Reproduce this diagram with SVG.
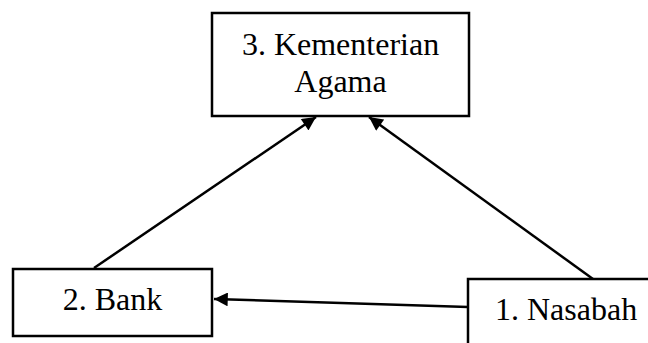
<svg xmlns="http://www.w3.org/2000/svg" width="648" height="343" viewBox="0 0 648 343">
<style>
.box{fill:#fff;stroke:#000;stroke-width:2.5}
.t{font-family:"Liberation Serif","Times New Roman",serif;font-size:32px;fill:#000}
.c{fill:none;stroke:#000;stroke-width:2.5}
</style>
<defs>
<marker id="ah" viewBox="0 0 10 10" refX="10" refY="5" markerWidth="6" markerHeight="5.5" markerUnits="strokeWidth" orient="auto">
<path d="M0,0 L10,5 L0,10 Z" fill="#000"/>
</marker>
</defs>
<rect width="648" height="343" fill="#fff"/>
<g id="connectors">
<line class="c" x1="94" y1="268" x2="316" y2="117" marker-end="url(#ah)"/>
<line class="c" x1="593" y1="279" x2="369" y2="117" marker-end="url(#ah)"/>
<line class="c" x1="468" y1="307" x2="214" y2="299" marker-end="url(#ah)"/>
</g>
<g id="kementerian">
<rect class="box" x="212" y="13" width="257" height="103"/>
<text class="t" x="340.5" y="55" text-anchor="middle">3. Kementerian</text>
<text class="t" x="340.5" y="92" text-anchor="middle">Agama</text>
</g>
<g id="bank">
<rect class="box" x="13" y="269" width="199" height="67"/>
<text class="t" x="112.5" y="310" text-anchor="middle">2. Bank</text>
</g>
<g id="nasabah">
<rect class="box" x="468" y="279" width="200" height="80"/>
<text class="t" x="495" y="320">1. Nasabah</text>
</g>
</svg>
